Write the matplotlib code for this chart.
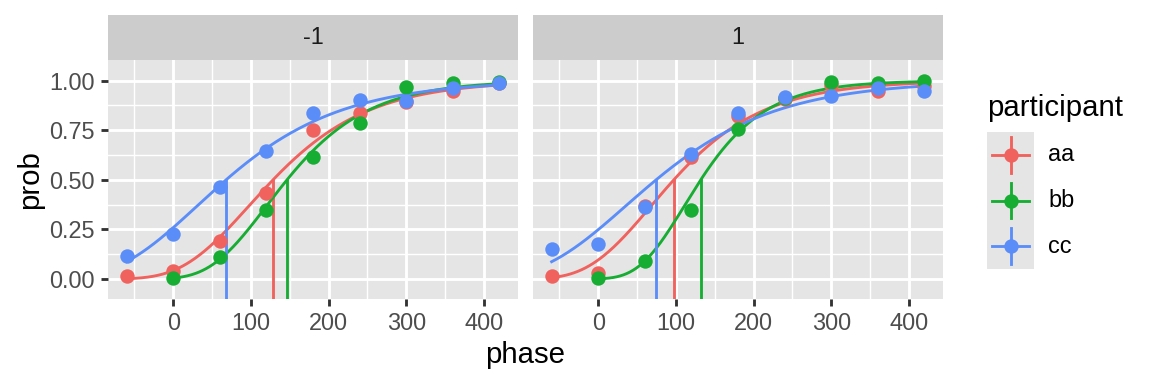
import numpy as np
import matplotlib.pyplot as plt

plt.rcParams['font.family'] = ['Liberation Sans', 'DejaVu Sans']

# data
phase = [-60, 0, 60, 120, 180, 240, 300, 360, 420]
participants = ['aa', 'bb', 'cc']
colors = ['#F0625E', '#17AD33', '#5B8DF9']
panels = ['-1', '1']

# prob per panel / participant (None = no point)
prob_m1 = {
    'aa': [0.017, 0.04, 0.193, 0.435, 0.751, 0.839, 0.891, 0.950, 0.987],
    'bb': [None, 0.007, 0.109, 0.350, 0.617, 0.785, 0.970, 0.987, 0.995],
    'cc': [0.118, 0.227, 0.462, 0.645, 0.835, 0.903, 0.899, 0.961, 0.987],
}
prob_p1 = {
    'aa': [0.017, 0.032, 0.368, 0.617, 0.822, 0.906, 0.980, 0.950, 0.973],
    'bb': [None, 0.007, 0.092, 0.350, 0.756, 0.910, 0.995, 0.987, 1.000],
    'cc': [0.150, 0.175, 0.361, 0.629, 0.835, 0.919, 0.924, 0.961, 0.950],
}
# fitted thresholds (p = 0.5) and slopes of the curves
thresh_m1 = [128.5, 146.5, 68.0]
slope_m1 = [85.0, 72.0, 102.0]
thresh_p1 = [97.3, 132.0, 74.5]
slope_p1 = [80.0, 58.0, 107.0]

probs = [prob_m1, prob_p1]
threshs = [thresh_m1, thresh_p1]
slopes = [slope_m1, slope_p1]


def psy(x, t, s):
    # log-log psychometric function, 0.5 at x = t
    z = (x - t) / s - np.log(np.log(2.0))
    return np.exp(-np.exp(-z))


f = 1.28  # scale of ggplot sizes in the reference
lw = 1.07 * f
ms = 48
small = 8.8 * f
big = 11 * f

W, H = 1152, 384
fig = plt.figure(figsize=(7.68, 2.56), dpi=150)

panel_x = [108, 533]
panel_w = 410
top, bottom = 60, 299.3
strip_top = 15

for k in range(2):
    ax = fig.add_axes([panel_x[k] / W, 1 - bottom / H, panel_w / W, (bottom - top) / H])
    ax.set_facecolor('#E5E5E5')
    ax.set_xlim(-84, 444)
    ax.set_ylim(-0.102, 1.104)
    ax.set_xticks([0, 100, 200, 300, 400])
    ax.set_xticks([-50, 50, 150, 250, 350], minor=True)
    ax.set_yticks([0, 0.25, 0.5, 0.75, 1.0])
    ax.set_yticks([0.125, 0.375, 0.625, 0.875], minor=True)
    ax.grid(which='major', color='white', lw=lw)
    ax.grid(which='minor', color='white', lw=lw / 2)
    ax.set_axisbelow(True)
    for sp in ax.spines.values():
        sp.set_visible(False)
    ax.tick_params(which='major', length=2.75 * f, width=lw, color='#333333',
                   labelsize=small, labelcolor='#4D4D4D', pad=2.2 * f)
    ax.tick_params(which='minor', length=0)
    if k == 0:
        ax.set_yticklabels(['0.00', '0.25', '0.50', '0.75', '1.00'])
    else:
        ax.set_yticklabels([])
        ax.tick_params(axis='y', which='major', length=0)

    for i, p in enumerate(participants):
        vals = probs[k][p]
        xs = [x for x, v in zip(phase, vals) if v is not None]
        ys = [v for v in vals if v is not None]
        t, s = threshs[k][i], slopes[k][i]
        xx = np.linspace(min(xs), max(xs), 300)
        ax.plot(xx, psy(xx, t, s), color=colors[i], lw=lw, zorder=3)
        ax.plot([t, t], [-0.102, 0.5], color=colors[i], lw=lw, zorder=3)
        ax.scatter(xs, ys, s=ms, color=colors[i], zorder=4, linewidths=0)

    # facet strip
    sax = fig.add_axes([panel_x[k] / W, 1 - top / H, panel_w / W, (top - strip_top) / H])
    sax.set_facecolor('#CCCCCC')
    sax.set_xticks([])
    sax.set_yticks([])
    for sp in sax.spines.values():
        sp.set_visible(False)
    sax.text(0.5, 0.5, panels[k], ha='center', va='center', fontsize=small, color='#1A1A1A',
             transform=sax.transAxes)

fig.text(525 / W, 1 - 355 / H, 'phase', ha='center', va='center', fontsize=big)
fig.text(30 / W, 1 - 180 / H, 'prob', ha='center', va='center', fontsize=big, rotation=90)

# legend
fig.text(987 / W, 1 - 108 / H, 'participant', ha='left', va='center', fontsize=big)
lx0, lx1, ly0, ly1 = 987, 1034, 131.7, 269.3
lax = fig.add_axes([lx0 / W, 1 - ly1 / H, (lx1 - lx0) / W, (ly1 - ly0) / H])
lax.set_xlim(0, 1)
lax.set_ylim(0, 3)
lax.set_facecolor('#E5E5E5')
lax.set_xticks([])
lax.set_yticks([])
for sp in lax.spines.values():
    sp.set_visible(False)
for i, p in enumerate(participants):
    yc = 2.5 - i
    lax.plot([0.1, 0.9], [yc, yc], color=colors[i], lw=lw)
    lax.plot([0.5, 0.5], [yc - 0.39, yc + 0.39], color=colors[i], lw=lw)
    lax.scatter([0.5], [yc], s=ms, color=colors[i], zorder=3, linewidths=0)
    fig.text(1048 / W, 1 - (ly0 + (i + 0.5) * (ly1 - ly0) / 3) / H, p,
             ha='left', va='center', fontsize=small)

fig.savefig('out.png', dpi=150)
